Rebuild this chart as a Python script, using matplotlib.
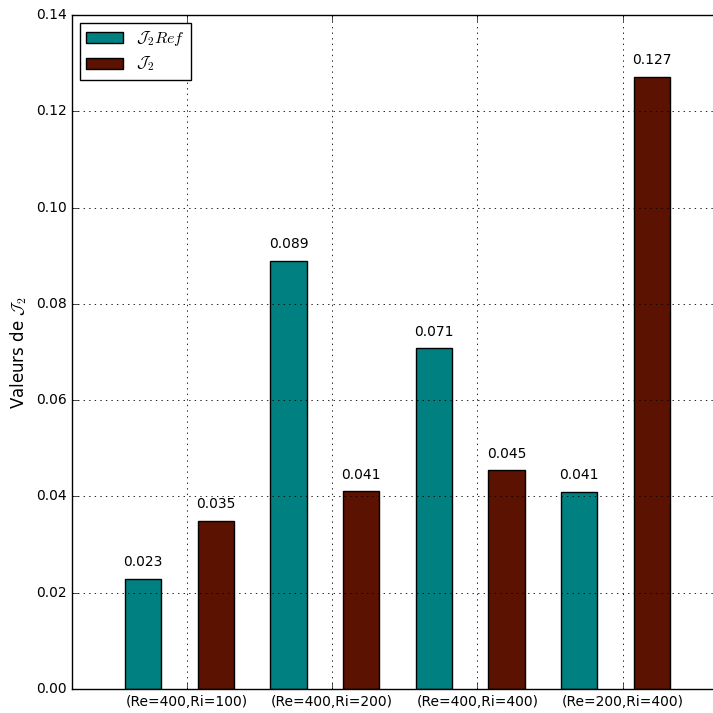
import matplotlib
matplotlib.use("Agg")
import matplotlib.pyplot as plt
import numpy as np

plt.style.use('classic')
plt.rcParams['font.size'] = 10
plt.rcParams['figure.facecolor'] = 'white'
plt.rcParams['savefig.facecolor'] = 'white'
plt.rcParams['mathtext.fontset'] = 'cm'

categories = ['(Re=400,Ri=100)', '(Re=400,Ri=200)', '(Re=400,Ri=400)', '(Re=200,Ri=400)']
j2_ref = [0.0229, 0.0889, 0.0708, 0.0409]
j2 = [0.0349, 0.0411, 0.0454, 0.1271]

fig = plt.figure(figsize=(7.13, 7.13), dpi=100)
ax = fig.add_axes([72/713, 1 - 689/713, (720 - 72)/713, (689 - 15)/713])

index = np.arange(len(categories))
w = 0.25
b1 = ax.bar(index, j2_ref, w, align='edge', color='#008080', edgecolor='black', linewidth=1,
            label=r'$\mathcal{J}_2 Ref$')
b2 = ax.bar(index + 2 * w, j2, w, align='edge', color='#5b1200', edgecolor='black', linewidth=1,
            label=r'$\mathcal{J}_2$')

for bars, vals in ((b1, j2_ref), (b2, j2)):
    for r, v in zip(bars, vals):
        ax.text(r.get_x() + r.get_width() / 2, v + 0.002, '%.3f' % v,
                ha='center', va='bottom', fontsize=10)

ax.set_xticks(index + 0.425)
ax.set_xticklabels(categories)
ax.set_xlim(-0.365, (720 - 125) / 145.3)
ax.set_ylim(0, 0.14)
ax.set_yticks(np.arange(0, 0.141, 0.02))
ax.yaxis.set_major_formatter(matplotlib.ticker.FormatStrFormatter('%.2f'))
ax.set_ylabel(r'Valeurs de $\mathcal{J}_2$', fontsize=12)
ax.grid(True, linestyle=':', color='black', linewidth=0.6)
ax.tick_params(direction='in', top=True, right=True, labelsize=10)
leg = ax.legend(loc='upper left', fontsize=11.5, fancybox=False, handlelength=2.3,
                labelspacing=0.4)
leg.get_frame().set_linewidth(1)

fig.savefig('out.png', dpi=100)
